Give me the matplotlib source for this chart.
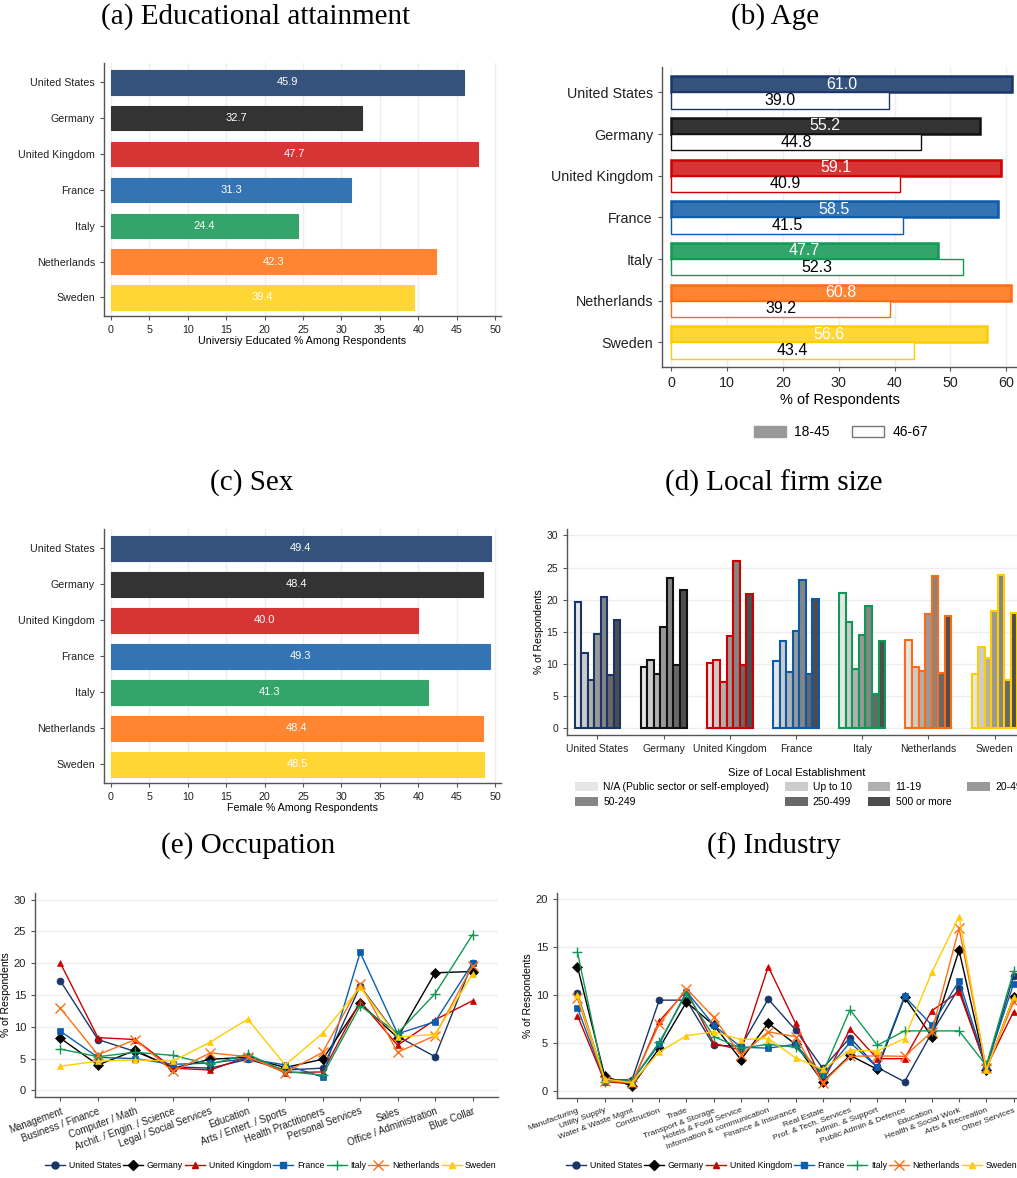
import matplotlib
matplotlib.use('Agg')
import matplotlib.pyplot as plt
from matplotlib.patches import Patch
from matplotlib.lines import Line2D
import numpy as np

plt.rcParams['font.family'] = ['Liberation Sans', 'DejaVu Sans']

# ---- data ----
countries = ['United States', 'Germany', 'United Kingdom', 'France', 'Italy', 'Netherlands', 'Sweden']
fill_colors = ['#34527c', '#333333', '#d73535', '#3474b5', '#33a56a', '#ff8533', '#ffd633']
edge_colors = ['#1a3668', '#111111', '#cc0000', '#0b5ba8', '#119954', '#ff6a14', '#ffcc00']
line_colors = ['#1a3668', '#000000', '#cc0000', '#0b5eaf', '#119954', '#ff6f14', '#ffcc00']
markers = ['o', 'D', '^', 's', '+', 'x', '^']

educ = [45.9, 32.7, 47.7, 31.3, 24.4, 42.3, 39.4]
age_young = [61.0, 55.2, 59.1, 58.5, 47.7, 60.8, 56.6]
age_old = [39.0, 44.8, 40.9, 41.5, 52.3, 39.2, 43.4]
female = [49.4, 48.4, 40.0, 49.3, 41.3, 48.4, 48.5]

size_labels = ['N/A (Public sector or self-employed)', 'Up to 10', '11-19', '20-49',
               '50-249', '250-499', '500 or more']
size_greys = ['#e6e6e6', '#cccccc', '#b0b0b0', '#999999', '#858585', '#686868', '#4d4d4d']
firm_size = {
    'United States':  [19.7, 11.7, 7.5, 14.7, 20.5, 8.3, 16.8],
    'Germany':        [9.6, 10.7, 8.4, 15.8, 23.4, 9.9, 21.5],
    'United Kingdom': [10.2, 10.7, 7.2, 14.4, 26.1, 9.9, 20.9],
    'France':         [10.4, 13.6, 8.7, 15.2, 23.0, 8.4, 20.1],
    'Italy':          [21.0, 16.5, 9.3, 14.5, 19.1, 5.4, 13.6],
    'Netherlands':    [13.7, 9.5, 8.9, 17.8, 23.7, 8.6, 17.4],
    'Sweden':         [8.4, 12.6, 11.0, 18.2, 23.9, 7.5, 18.0],
}

occupations = ['Management', 'Business / Finance', 'Computer / Math', 'Archit. / Engin. / Science',
               'Legal / Social Services', 'Education', 'Arts / Entert. / Sports',
               'Health Practitioners', 'Personal Services', 'Sales',
               'Office / Administration', 'Blue Collar']
occ = {
    'United States':  [17.2, 8.0, 6.1, 3.7, 3.5, 4.9, 3.2, 3.5, 16.4, 8.5, 5.3, 20.1],
    'Germany':        [8.2, 4.0, 6.3, 3.5, 4.9, 5.2, 3.6, 4.9, 13.7, 8.3, 18.5, 18.7],
    'United Kingdom': [20.0, 8.3, 8.0, 3.5, 3.2, 5.3, 2.8, 2.9, 14.0, 7.1, 11.1, 14.1],
    'France':         [9.3, 5.2, 5.0, 4.1, 4.3, 5.0, 4.0, 2.1, 21.7, 8.9, 10.8, 20.0],
    'Italy':          [6.5, 5.3, 6.0, 5.5, 4.1, 5.7, 3.0, 2.4, 13.3, 9.0, 15.2, 24.5],
    'Netherlands':    [12.9, 5.6, 8.0, 3.0, 5.9, 5.3, 2.8, 6.0, 16.7, 6.0, 8.6, 19.6],
    'Sweden':         [3.8, 4.6, 4.8, 4.6, 7.6, 11.2, 4.0, 9.0, 16.2, 8.4, 8.8, 18.3],
}

industries = ['Manufacturing', 'Utility Supply', 'Water & Waste Mgmt', 'Construction', 'Trade',
              'Transport & Storage', 'Hotels & Food Service', 'Information & communication',
              'Finance & Insurance', 'Real Estate', 'Prof. & Tech. Services', 'Admin. & Support',
              'Public Admin & Defence', 'Education', 'Health & Social Work', 'Arts & Recreation',
              'Other Services']
ind = {
    'United States':  [10.2, 1.2, 1.2, 9.5, 9.5, 4.8, 4.7, 9.6, 6.4, 2.4, 5.6, 2.5, 1.0, 6.1, 10.8, 2.4, 12.0],
    'Germany':        [13.0, 1.6, 0.55, 4.5, 9.3, 6.9, 3.3, 7.1, 4.9, 1.0, 3.75, 2.3, 9.8, 5.7, 14.7, 2.2, 9.8],
    'United Kingdom': [7.9, 1.0, 0.8, 7.3, 10.5, 5.0, 4.3, 13.0, 7.1, 1.0, 6.5, 3.4, 3.4, 8.4, 10.4, 2.5, 8.3],
    'France':         [8.7, 1.1, 1.1, 4.9, 10.4, 6.9, 4.6, 4.5, 4.9, 1.7, 5.1, 2.5, 9.9, 6.9, 11.5, 2.6, 11.2],
    'Italy':          [14.5, 1.0, 1.1, 5.1, 10.2, 5.7, 4.5, 4.9, 4.6, 1.9, 8.5, 4.8, 6.3, 6.3, 6.3, 2.7, 12.5],
    'Netherlands':    [9.7, 1.1, 0.9, 7.0, 10.7, 7.7, 3.8, 6.2, 5.7, 0.9, 3.65, 3.7, 3.65, 6.2, 17.0, 2.4, 9.3],
    'Sweden':         [10.0, 1.3, 0.9, 4.1, 5.8, 6.2, 5.4, 5.5, 3.5, 2.3, 4.3, 4.2, 5.5, 12.4, 18.2, 2.2, 9.8],
}

W, H = 1017, 1178
fig = plt.figure(figsize=(W / 100, H / 100), dpi=100)


def add_ax(left, top, right, bottom):
    return fig.add_axes([left / W, 1 - bottom / H, (right - left) / W, (bottom - top) / H])


def style(ax):
    for s in ['top', 'right']:
        ax.spines[s].set_visible(False)
    for s in ['left', 'bottom']:
        ax.spines[s].set_color('#555555')
        ax.spines[s].set_linewidth(1.0)
    ax.tick_params(colors='#555555', labelcolor='#222222', length=3, width=0.8)


def title(x, y, txt):
    fig.text(x / W, 1 - y / H, txt, ha='center', va='center',
             family='Liberation Serif', fontsize=21)


pos = np.arange(len(countries))

# ---- (a) and (c): single horizontal bars ----
for vals, top, bottom, xlab in [(educ, 63, 316, 'Universiy Educated % Among Respondents'),
                                (female, 529, 783, 'Female % Among Respondents')]:
    ax = add_ax(104, top, 501, bottom)
    style(ax)
    ax.barh(pos, vals, height=0.68, color=fill_colors, edgecolor=fill_colors, linewidth=0.8)
    for p, v in zip(pos, vals):
        ax.text(v / 2, p, f'{v:.1f}', ha='center', va='center', color='white', fontsize=8)
    ax.set_yticks(pos)
    ax.set_yticklabels(countries, fontsize=7.7)
    ax.set_ylim(6.52, -0.54)
    ax.set_xlim(-0.87, 50.75)
    ax.set_xticks(np.arange(0, 51, 5))
    ax.tick_params(axis='x', labelsize=7.7)
    ax.xaxis.grid(True, color='#eeeeee', linewidth=1)
    ax.set_axisbelow(True)
    ax.set_xlabel(xlab, fontsize=7.7, labelpad=1)

title(256, 17, '(a) Educational attainment')
title(252, 483, '(c) Sex')

# ---- (b) Age ----
ax = add_ax(662, 67, 1017, 367)
style(ax)
bh = 0.39
ax.barh(pos - bh / 2, age_young, height=bh, color=fill_colors, edgecolor=edge_colors, linewidth=1.8)
ax.barh(pos + bh / 2, age_old, height=bh, color='white', edgecolor=edge_colors, linewidth=1.0)
for p, a, b in zip(pos, age_young, age_old):
    ax.text(a / 2, p - bh / 2, f'{a:.1f}', ha='center', va='center', color='white', fontsize=11.5)
    ax.text(b / 2, p + bh / 2, f'{b:.1f}', ha='center', va='center', color='black', fontsize=11.5)
ax.set_yticks(pos)
ax.set_yticklabels(countries, fontsize=10.3)
ax.set_ylim(6.59, -0.61)
ax.set_xlim(-1.6, 61.9)
ax.set_xticks(np.arange(0, 61, 10))
ax.tick_params(axis='x', labelsize=10.3)
ax.xaxis.grid(True, color='#eeeeee', linewidth=1)
ax.set_axisbelow(True)
ax.set_xlabel('% of Respondents', fontsize=10.5, labelpad=2)
fig.legend(handles=[Patch(facecolor='#999999', edgecolor='#999999', label='18-45'),
                    Patch(facecolor='white', edgecolor='#777777', label='46-67')],
           loc='center', bbox_to_anchor=(841 / W, 1 - 432 / H), ncol=2, frameon=False,
           fontsize=10, handlelength=2.3, handleheight=0.85, columnspacing=1.6,
           handletextpad=0.6)
title(775, 17, '(b) Age')

# ---- (d) Local firm size ----
ax = add_ax(567, 529, 1025, 735)
style(ax)
bw = 0.099
for i, c in enumerate(countries):
    offs = (np.arange(7) - 3) * bw
    ax.bar(i + offs, firm_size[c], width=bw, color=size_greys, edgecolor=edge_colors[i], linewidth=1.5)
ax.set_xticks(pos)
ax.set_xticklabels(countries, fontsize=7.5)
ax.set_xlim(-0.46, 6.46)
ax.set_ylim(-1.04, 31.0)
ax.set_yticks(np.arange(0, 31, 5))
ax.tick_params(axis='y', labelsize=7.5)
ax.yaxis.grid(True, color='#eeeeee', linewidth=1)
ax.set_axisbelow(True)
ax.set_ylabel('% of Respondents', fontsize=7.5, labelpad=2)
fig.text(797 / W, 1 - 773 / H, 'Size of Local Establishment', ha='center', va='center', fontsize=8)
order = [0, 4, 1, 5, 2, 6, 3]
hs = [Patch(facecolor=size_greys[k], edgecolor='none', label=size_labels[k]) for k in order]
fig.legend(handles=hs, loc='upper left', bbox_to_anchor=(575 / W, 1 - 782 / H), ncol=4,
           frameon=False, fontsize=7.5, handlelength=2.2, handleheight=0.9,
           columnspacing=1.5, labelspacing=0.5, handletextpad=0.5, borderaxespad=0,
           borderpad=0)
title(774, 483, '(d) Local firm size')


# ---- (e) and (f): line charts ----
def line_panel(ax, cats, data, yticks, xsize):
    style(ax)
    x = np.arange(len(cats))
    for i, c in enumerate(countries):
        ms = 5 if markers[i] in ['o', 's', 'D', '^'] else 7
        ax.plot(x, data[c], color=line_colors[i], marker=markers[i], markersize=ms,
                linewidth=1.0, markeredgewidth=1.0 if markers[i] in ['+', 'x'] else 0.5,
                label=c)
    ax.set_xticks(x)
    ax.set_xticklabels(cats, rotation=20, ha='right', rotation_mode='anchor', fontsize=xsize)
    ax.set_yticks(yticks)
    ax.tick_params(axis='y', labelsize=8)
    ax.yaxis.grid(True, color='#eeeeee', linewidth=1)
    ax.set_axisbelow(True)
    ax.set_ylabel('% of Respondents', fontsize=7.5, labelpad=2)


handles = [Line2D([0], [0], color=line_colors[i], marker=markers[i],
                  markersize=5 if markers[i] in ['o', 's', 'D', '^'] else 7, linewidth=1.0)
           for i in range(7)]
leg_kw = dict(ncol=7, frameon=False, fontsize=6.3, handlelength=2.3, columnspacing=0.25,
              handletextpad=0.4, borderaxespad=0, borderpad=0)

ax = add_ax(35, 893, 498, 1097)
line_panel(ax, occupations, occ, np.arange(0, 31, 5), 7)
ax.set_xlim(-0.68, 11.68)
ax.set_ylim(-1.04, 31.05)
fig.legend(handles, countries, loc='center', bbox_to_anchor=(271 / W, 1 - 1166 / H), **leg_kw)
title(248, 846, '(e) Occupation')

ax = add_ax(557, 893, 1034, 1098)
line_panel(ax, industries, ind, np.arange(0, 21, 5), 6.0)
ax.set_xlim(-0.75, 16.75)
ax.set_ylim(-0.69, 20.66)
fig.legend(handles, countries, loc='center left', bbox_to_anchor=(566 / W, 1 - 1166 / H), **leg_kw)
title(774, 846, '(f) Industry')

fig.savefig('out.png', dpi=100)
